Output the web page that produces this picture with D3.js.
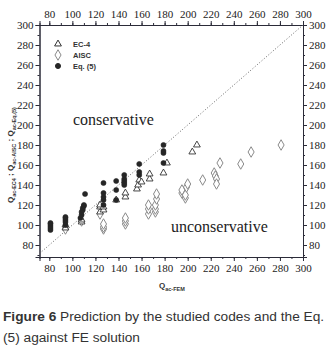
<!DOCTYPE html>
<html><head><meta charset="utf-8">
<script src="https://cdn.jsdelivr.net/npm/d3@7"></script>
<style>
html,body{margin:0;padding:0;background:#fff;}
svg{display:block;}
</style></head>
<body>
<svg id="chart" width="333" height="356"></svg>
<script>
// ---- data ----
const xTicks = [80,100,120,140,160,180,200,220,240,260,280,300];
const yTicks = [80,100,120,140,160,180,200,220,240,260,280,300];
const legendLabels = ["EC-4","AISC","Eq. (5)"];

const ec4X = [94,94,108,108,124,124,124,127,127,138,146,146,156,157,158,160,167,167,179,182,204,208];
const ec4Y = [97,100,103,105,113,118,120,115,118,125,128,132,136,140,145,143,146,151,152,162,173,180];

const aiscX = [94,108,124,127,127,127,146,146,146,166,166,166,172,172,172,173,173,195,195,198,198,199,200,213,223,224,225,225,228,246,255,281];
const aiscY = [96,104,111,96,98,101,101,104,107,111,116,120,113,116,120,126,131,132,135,127,130,138,141,145,152,149,146,141,162,161,173,180];

const eq5X = [81,81,81,81,81,94,94,94,94,94,107,108,108,109,109,110,110,111,127,127,127,127,127,138,138,138,145,145,145,145,145,158,158,158,179,179,179,179];
const eq5Y = [95,97,99,101,102,100,103,105,107,108,107,110,113,115,117,119,120,131,120,125,128,132,142,125,135,144,140,142,144,146,150,150,153,161,162,172,174,180];

// ---- layout ----
const svg = d3.select("#chart");
const L = 39.5, R = 303, T = 25, B = 257;
const x = d3.scaleLinear().domain([71.5,300]).range([L,R]);
const y = d3.scaleLinear().domain([68,300]).range([B,T]);
const axisColor = "#2b2b38";
const serif = "'Liberation Serif','Times New Roman',serif";
const sans = "'Liberation Sans',Arial,sans-serif";

function styleAxis(g){
  g.selectAll("path.domain").attr("stroke",axisColor).attr("stroke-width",1);
  g.selectAll(".tick line").attr("stroke",axisColor);
  g.selectAll(".tick text").attr("fill","#222").attr("font-family",serif).attr("font-size",11);
}
const minor = d3.range(70,301,10);

// minor ticks
function minorAxis(axisFn, scale){ return axisFn(scale).tickValues(minor).tickSize(2).tickFormat(""); }
svg.append("g").attr("transform",`translate(0,${B})`).call(minorAxis(d3.axisBottom,x).tickValues(minor.filter(v=>v>=72))).call(styleAxis);
svg.append("g").attr("transform",`translate(0,${T})`).call(minorAxis(d3.axisTop,x).tickValues(minor.filter(v=>v>=72))).call(styleAxis);
svg.append("g").attr("transform",`translate(${L},0)`).call(minorAxis(d3.axisLeft,y)).call(styleAxis);
svg.append("g").attr("transform",`translate(${R},0)`).call(minorAxis(d3.axisRight,y)).call(styleAxis);

// major axes
svg.append("g").attr("transform",`translate(0,${B})`)
  .call(d3.axisBottom(x).tickValues(xTicks).tickSize(4).tickPadding(3)).call(styleAxis);
svg.append("g").attr("transform",`translate(0,${T})`)
  .call(d3.axisTop(x).tickValues(xTicks).tickSize(4).tickPadding(3)).call(styleAxis);
svg.append("g").attr("transform",`translate(${L},0)`)
  .call(d3.axisLeft(y).tickValues(yTicks).tickSize(4).tickPadding(2)).call(styleAxis);
svg.append("g").attr("transform",`translate(${R},0)`)
  .call(d3.axisRight(y).tickValues(yTicks).tickSize(4).tickPadding(2)).call(styleAxis);

// diagonal 1:1 line
svg.append("defs").append("clipPath").attr("id","clip")
  .append("rect").attr("x",L).attr("y",T).attr("width",R-L).attr("height",B-T);
svg.append("line").attr("clip-path","url(#clip)")
  .attr("x1",x(71.5)).attr("y1",y(71.5)).attr("x2",x(300)).attr("y2",y(300))
  .attr("stroke","#666").attr("stroke-width",1).attr("stroke-dasharray","1,2");

// markers
const tri = d3.symbol().type(d3.symbolTriangle).size(20);
const dia = d3.symbol().type(d3.symbolDiamond).size(32);
const cir = d3.symbol().type(d3.symbolCircle).size(20);

const aisc = d3.zip(aiscX,aiscY), ec4 = d3.zip(ec4X,ec4Y), eq5 = d3.zip(eq5X,eq5Y);

svg.append("g").selectAll("path").data(aisc).join("path")
  .attr("d",dia).attr("transform",d=>`translate(${x(d[0])},${y(d[1])})`)
  .attr("fill","#fff").attr("stroke","#8a8a8a").attr("stroke-width",1);
svg.append("g").selectAll("path").data(ec4).join("path")
  .attr("d",tri).attr("transform",d=>`translate(${x(d[0])},${y(d[1])})`)
  .attr("fill","#fff").attr("stroke","#333").attr("stroke-width",0.9);
svg.append("g").selectAll("path").data(eq5).join("path")
  .attr("d",cir).attr("transform",d=>`translate(${x(d[0])},${y(d[1])})`)
  .attr("fill","#262626").attr("stroke","#262626").attr("stroke-width",0.6);

// legend
const leg = svg.append("g");
const legY = [44,55,66];
const legSym = [tri,dia,cir];
const legFill = ["#fff","#fff","#262626"];
const legStroke = ["#333","#8a8a8a","#262626"];
legendLabels.forEach((t,i)=>{
  leg.append("path").attr("d",legSym[i]).attr("transform",`translate(58,${legY[i]})`)
    .attr("fill",legFill[i]).attr("stroke",legStroke[i]).attr("stroke-width",1);
  leg.append("text").attr("x",73).attr("y",legY[i]+3).text(t)
    .attr("font-family",sans).attr("font-weight","bold").attr("font-size",7.5).attr("fill","#333");
});

// region labels
svg.append("text").attr("x",73).attr("y",125).text("conservative")
  .attr("font-family",serif).attr("font-size",16).attr("fill","#222");
svg.append("text").attr("x",171).attr("y",232).text("unconservative")
  .attr("font-family",serif).attr("font-size",16).attr("fill","#222");

// axis titles
const xt = svg.append("text").attr("x",159).attr("y",288).attr("font-family",sans).attr("fill","#333").attr("font-weight","bold");
xt.append("tspan").attr("font-size",8).text("Q");
xt.append("tspan").attr("font-size",5.5).attr("dy",3).text("ac-FEM");

const yt = svg.append("text").attr("transform","translate(13,203) rotate(-90)")
  .attr("font-family",sans).attr("fill","#333").attr("font-weight","bold");
[["Q","ac-EC4"," ; "],["Q","ac-AISC"," ; "],["Q","ac-Eq.(5)",""]].forEach(p=>{
  yt.append("tspan").attr("font-size",8).attr("dy",0).text(p[0]);
  yt.append("tspan").attr("font-size",5.5).attr("dy",3).text(p[1]);
  yt.append("tspan").attr("font-size",8).attr("dy",-3).text(p[2]);
});

// caption
const cap1 = svg.append("text").attr("x",3).attr("y",321).attr("font-family",sans).attr("font-size",13.7).attr("fill","#333");
cap1.append("tspan").attr("font-weight","bold").text("Figure 6");
cap1.append("tspan").text(" Prediction by the studied codes and the Eq.");
svg.append("text").attr("x",3).attr("y",342).attr("font-family",sans).attr("font-size",13.7).attr("fill","#333")
  .text("(5) against FE solution");
</script>
</body></html>
